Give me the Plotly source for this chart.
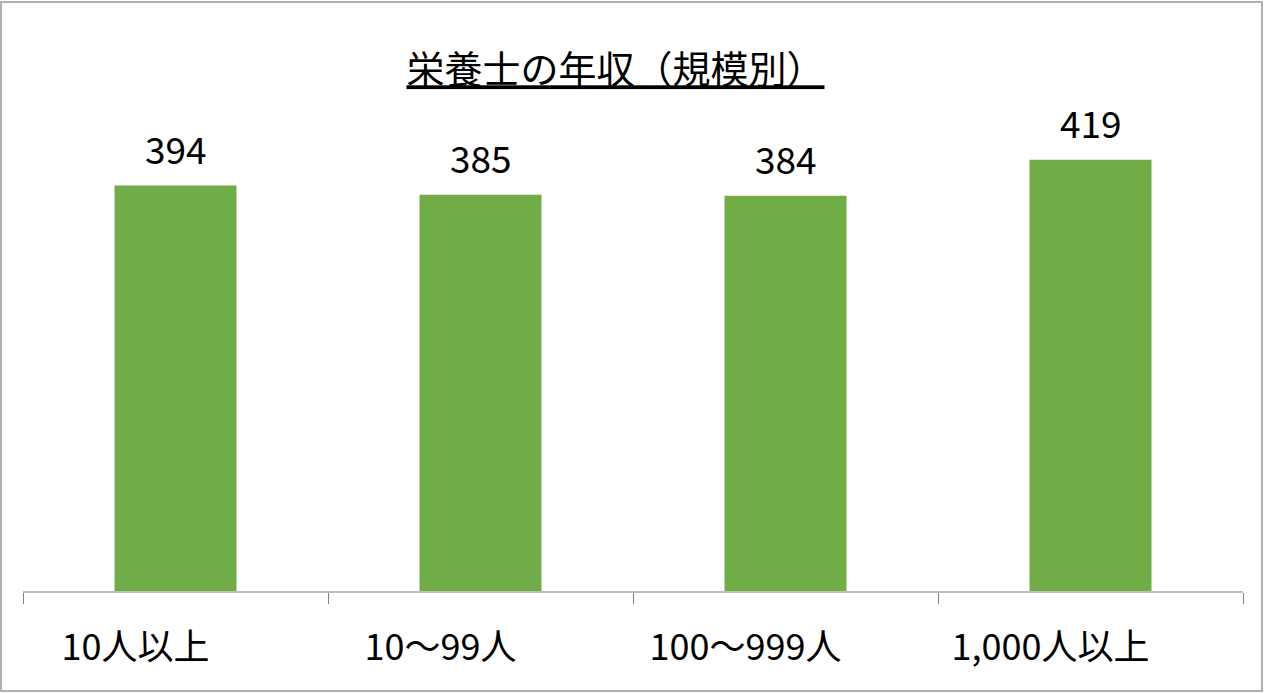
import plotly.graph_objects as go

categories = ["10人以上", "10～99人", "100～999人", "1,000人以上"]
values = [394, 385, 384, 419]
title_text = "栄養士の年収（規模別）"

FONT = "Noto Sans CJK JP"
GREEN = "#70AD47"

fig = go.Figure()
fig.add_trace(go.Bar(
    x=categories,
    y=values,
    marker=dict(color=GREEN, line=dict(width=0)),
    width=0.4,
    hoverinfo="skip",
))

annotations = []
for c, v in zip(categories, values):
    annotations.append(dict(
        x=c, y=v, xref="x", yref="y",
        text=str(v), showarrow=False,
        yanchor="bottom", yshift=9,
        font=dict(family=FONT, size=37, color="#000000"),
    ))

fig.update_layout(
    width=1268, height=693,
    margin=dict(l=23, r=25, t=130, b=102, pad=0),
    paper_bgcolor="white", plot_bgcolor="white",
    showlegend=False,
    title=dict(
        text=title_text,
        x=0.4854, xanchor="center",
        y=1 - 70 / 693, yanchor="middle", yref="container",
        font=dict(family=FONT, size=38, color="#000000", lineposition="under"),
    ),
    xaxis=dict(
        type="category",
        range=[-0.5, 3.5],
        showline=True, linecolor="#bfbfbf", linewidth=2,
        ticks="outside", tickson="boundaries", ticklen=11,
        tickcolor="#808080", tickwidth=1,
        showgrid=False, zeroline=False,
        tickfont=dict(family=FONT, size=36, color="#000000"),
        ticklabelshift=-40,
        ticklabelstandoff=24,
    ),
    yaxis=dict(
        range=[0, 448],
        visible=False,
        showgrid=False, zeroline=False,
    ),
    annotations=annotations,
    shapes=[dict(
        type="rect", xref="paper", yref="paper",
        x0=-22 / 1220, x1=1 + 19 / 1220,
        y0=-100 / 461, y1=1 + 128 / 461,
        line=dict(color="#b0b0b0", width=2),
        layer="above",
    )],
)

fig.write_html(
    "out.html",
    config={"displayModeBar": False},
    post_script="document.body.style.margin='0';document.body.style.padding='0';",
)
